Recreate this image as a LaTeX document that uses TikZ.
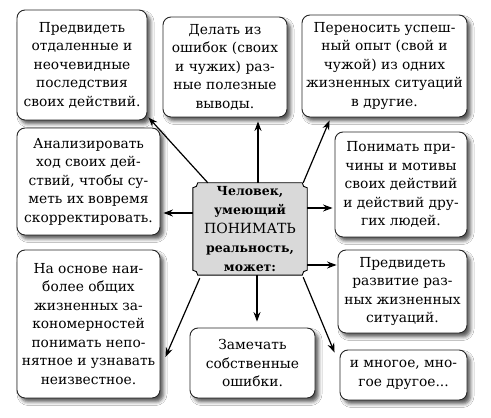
\documentclass[tikz,border=0pt]{standalone}
\usepackage{fontspec}
\setmainfont{DejaVu Serif}
\usetikzlibrary{arrows.meta,calc,shadows.blur,backgrounds}
\begin{document}
\begin{tikzpicture}[x=1pt,y=1pt,
  box/.style={draw=black!85, line width=0.9pt, rounded corners=8pt, fill=white,
    align=center, inner sep=0pt, font=\fontsize{13.8}{18.5}\selectfont,
    blur shadow={shadow xshift=3.5pt,shadow yshift=-4pt,shadow blur radius=3.5pt,shadow opacity=65}},
  centerbox/.style={align=center, inner sep=0pt, font=\bfseries\fontsize{12.5}{19}\selectfont},
  arr/.style={line width=1.2pt, -{Stealth[length=9.5pt,width=7pt]}}]
\useasboundingbox (0,0) rectangle (491,418);

\node[box, minimum width=130pt, minimum height=110pt] (b1) at (82,353)
  {Предвидеть\\отдаленные и\\неочевидные\\последствия\\своих действий.};
\node[box, minimum width=124pt, minimum height=100pt] (b2) at (225,351)
  {Делать из\\ошибок (своих\\и чужих) раз-\\ные полезные\\выводы.};
\node[box, minimum width=165pt, minimum height=102pt] (b3) at (384.5,352)
  {Переносить успеш-\\ный опыт (свой и\\чужой) из одних\\жизненных ситуаций\\в другие.};
\node[box, minimum width=143pt, minimum height=107pt] (b4) at (88.5,236.5)
  {Анализировать\\ход своих дей-\\ствий, чтобы су-\\меть их вовремя\\скорректировать.};
\node[box, minimum width=132pt, minimum height=105pt] (b5) at (401,233.5)
  {Понимать при-\\чины и мотивы\\своих действий\\и действий дру-\\гих людей.};
\node[box, minimum width=143pt, minimum height=148pt] (b6) at (88.5,94)
  {На основе наи-\\более общих\\жизненных за-\\кономерностей\\понимать непо-\\нятное и узнавать\\неизвестное.};
\node[box, minimum width=125pt, minimum height=70pt] (b7) at (252.5,55)
  {Замечать\\собственные\\ошибки.};
\node[box, minimum width=129pt, minimum height=83pt] (b8) at (402.5,126.5)
  {Предвидеть\\развитие раз-\\ных жизненных\\ситуаций.};
\node[box, minimum width=127pt, minimum height=50pt] (b9) at (403.5,43)
  {и многое, мно-\\гое другое...};

\node[centerbox, minimum width=114pt, minimum height=92pt] (c) at (250,189)
  {Человек,\\умеющий\\{\mdseries\fontsize{14}{19}\selectfont ПОНИМАТЬ}\\реальность,\\может:};

\begin{scope}[on background layer]
  \fill[white] (0,0) rectangle (491,418);
  \def\rr{5}
  \filldraw[fill=black!15, draw=black, line width=0.9pt]
    ($(c.north west)+(\rr,0)$) -- ($(c.north east)+(-\rr,0)$)
    arc[start angle=180,end angle=270,radius=\rr]
    -- ($(c.south east)+(0,\rr)$)
    arc[start angle=90,end angle=180,radius=\rr]
    -- ($(c.south west)+(\rr,0)$)
    arc[start angle=0,end angle=90,radius=\rr]
    -- ($(c.north west)+(0,-\rr)$)
    arc[start angle=270,end angle=360,radius=\rr] -- cycle;
\end{scope}

\draw[arr] ($(c.north west)+(15,0)$) -- ($(b1.south east)+(1,3)$);
\draw[arr] ($(c.north)+(8,0)$) -- ($(b2.south)+(33,-4)$);
\draw[arr] ($(c.north east)+(-4,0)$) -- ($(b3.south west)+(28,-3)$);
\draw[arr] ($(c.west)+(0,16)$) -- ($(b4.east)+(3,-31.5)$);
\draw[arr] ($(c.east)+(0,21)$) -- ($(b5.west)+(-2,-23.5)$);
\draw[arr] ($(c.east)+(0,-36)$) -- ($(b8.west)+(-1,26.5)$);
\draw[arr] ($(c.south west)+(7,-3)$) -- ($(b6.east)+(5,-33)$);
\draw[arr] ($(c.south)+(7,0)$) -- ($(b7.north)+(4.5,6)$);
\draw[arr] ($(c.south east)+(-4,-2)$) -- ($(b9.north west)+(-5,-3)$);
\end{tikzpicture}
\end{document}
